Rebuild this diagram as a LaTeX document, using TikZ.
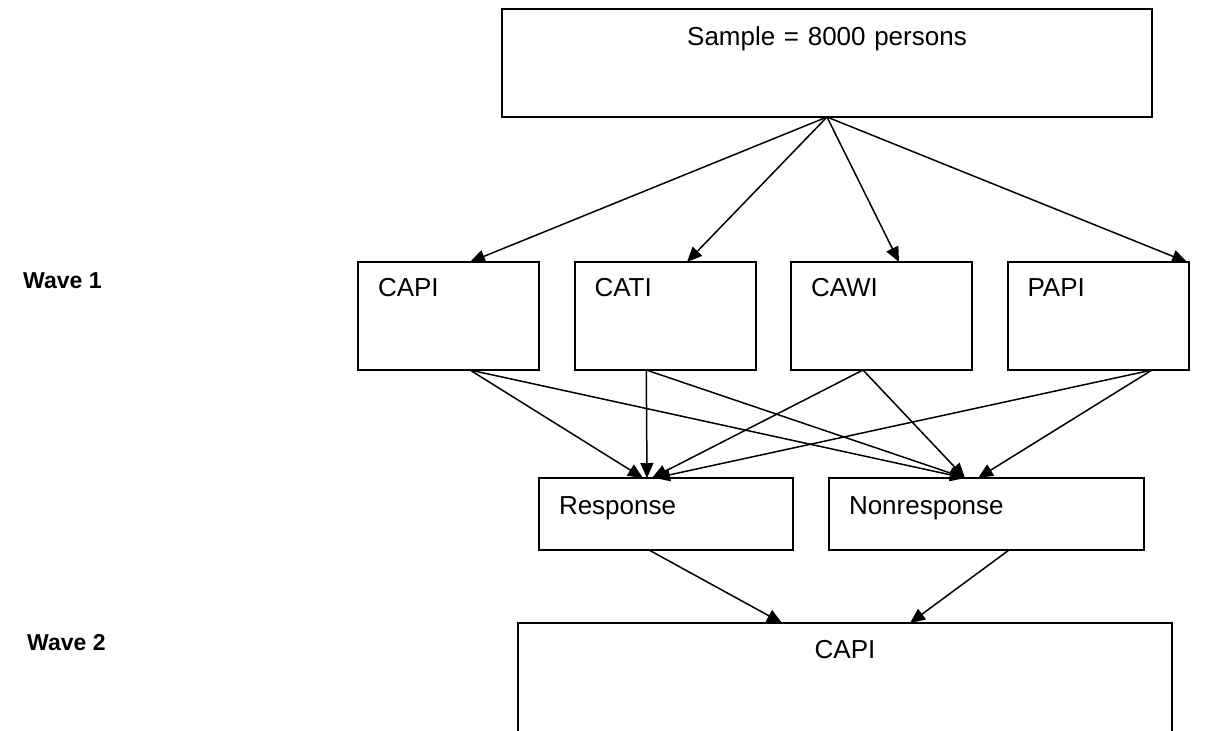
\documentclass[tikz,border=0pt]{standalone}
\usepackage{fontspec}
\setmainfont{Liberation Sans}
\usetikzlibrary{positioning, arrows.meta}

\begin{document}
\begin{tikzpicture}[x=0.5pt, y=-0.5pt,
		box/.style = {draw, line width=1pt, inner ysep=0pt, inner xsep=10pt, outer sep=0pt, font=\fontsize{13}{15}\selectfont},
		modebox/.style = {box, anchor=north west, align=left, text width=70.5pt, text height=17.3pt, text depth=36.7pt},
		outbox/.style = {box, anchor=north west, align=left, text height=18.3pt, text depth=17.7pt},
		wave/.style = {anchor=east, inner sep=0pt, font=\fontsize{11.5}{14}\selectfont\bfseries},
		arr/.style = {-{Triangle[length=7.5pt, width=6.5pt]}, line width=0.75pt}]
		\useasboundingbox (0,0) rectangle (1209,730);
		\clip (0,0) rectangle (1209,730);
		
		\node[box, anchor=north west, align=center, text width=305pt, text height=18.3pt, text depth=35.7pt] (sample) at (502,9) {Sample = 8000 persons};
		
		\node[modebox] (capi) at (358,262) {CAPI};
		\node[modebox, right=17.75pt of capi] (cati) {CATI};
		\node[modebox, right=17.75pt of cati] (cawi) {CAWI};
		\node[modebox, right=17.75pt of cawi] (papi) {PAPI};
		
		\node[outbox, text width=107pt] (resp) at (539,478) {Response};
		\node[outbox, text width=137.5pt, right=18pt of resp] (nonresp) {Nonresponse};
		
		\node[box, anchor=north west, align=center, text width=307pt, text height=17.8pt, text depth=55.7pt] (capitwo) at (518,623) {CAPI};
		
		\node[wave] (wone) at (102,281) {Wave 1};
		\node[wave] (wtwo) at (106,643) {Wave 2};
		
		\draw[arr] (sample.south) -- ([xshift=10.75pt]capi.north);
		\draw[arr] (sample.south) -- ([xshift=11pt]cati.north);
		\draw[arr] (sample.south) -- ([xshift=8.75pt]cawi.north);
		\draw[arr] (sample.south) -- ([xshift=44.5pt]papi.north);
		
		\draw[arr] ([xshift=10.75pt]capi.south) -- ([xshift=-11.5pt]resp.north);
		\draw[arr] ([xshift=10.75pt]capi.south) -- ([xshift=-10.75pt]nonresp.north);
		\draw[arr] ([xshift=-9.375pt]cati.south) -- ([xshift=-9.5pt]resp.north);
		\draw[arr] ([xshift=-9.375pt]cati.south) -- ([xshift=-10.75pt]nonresp.north);
		\draw[arr] ([xshift=-9.25pt]cawi.south) -- ([xshift=-7pt]resp.north);
		\draw[arr] ([xshift=-9.25pt]cawi.south) -- ([xshift=-10.75pt]nonresp.north);
		\draw[arr] ([xshift=27pt]papi.south) -- ([xshift=-5.5pt]resp.north);
		\draw[arr] ([xshift=27pt]papi.south) -- ([xshift=-4.25pt]nonresp.north);
		
		\draw[arr] ([xshift=-8.5pt]resp.south) -- ([xshift=-31.5pt]capitwo.north);
		\draw[arr] ([xshift=11.25pt]nonresp.south) -- ([xshift=32.5pt]capitwo.north);
	\end{tikzpicture}
\end{document}
